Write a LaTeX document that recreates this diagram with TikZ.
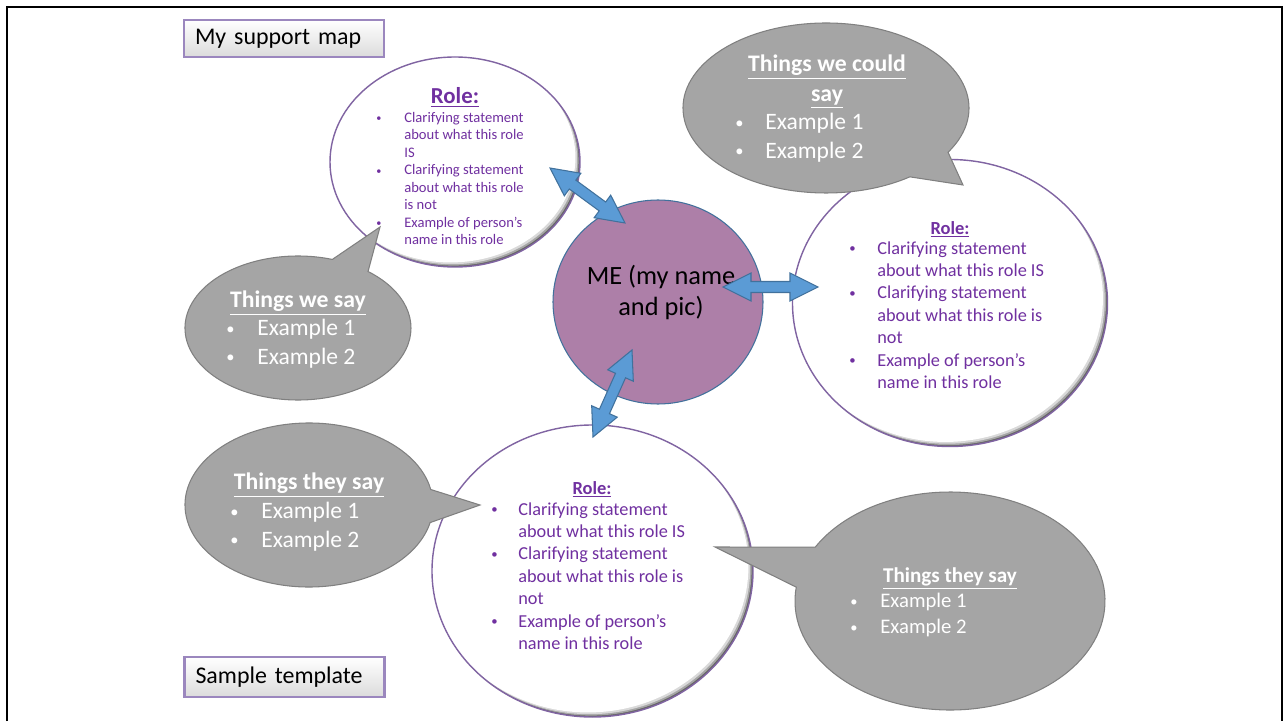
\documentclass[tikz,border=0pt]{standalone}
\usepackage{fontspec}
\usepackage{graphicx}
\setmainfont{Carlito}
\usetikzlibrary{calc,positioning,shapes.geometric}
\definecolor{rolepurple}{RGB}{112,48,160}
\definecolor{ringpurple}{RGB}{128,100,162}
\definecolor{bubblegray}{RGB}{165,165,165}
\definecolor{bubbleedge}{RGB}{128,128,128}
\definecolor{mefill}{RGB}{173,127,168}
\definecolor{meedge}{RGB}{65,113,156}
\definecolor{arrowfill}{RGB}{91,155,213}
\definecolor{arrowedge}{RGB}{65,113,156}
\definecolor{tagedge}{RGB}{155,135,190}

% small list bullet
\newcommand{\bul}{\raisebox{0.12ex}{\scalebox{0.7}{\textbullet}}}

% double headed block arrow between two named points
\newcommand{\dblarrow}[2]{%
  \draw[blockarrow] (#1) -- ($(#1)!0.56cm!(#2)!0.28cm!90:(#2)$) -- ($(#1)!0.56cm!(#2)!0.11cm!90:(#2)$)
    -- ($(#2)!0.56cm!(#1)!0.11cm!-90:(#1)$) -- ($(#2)!0.56cm!(#1)!0.28cm!-90:(#1)$) -- (#2)
    -- ($(#2)!0.56cm!(#1)!0.28cm!90:(#1)$) -- ($(#2)!0.56cm!(#1)!0.11cm!90:(#1)$)
    -- ($(#1)!0.56cm!(#2)!0.11cm!-90:(#2)$) -- ($(#1)!0.56cm!(#2)!0.28cm!-90:(#2)$) -- cycle;}

\tikzset{
  rolering/.style 2 args={ellipse, minimum width=#1, minimum height=#2, inner sep=0pt,
    fill=white, draw=ringpurple, line width=0.8pt,
    path picture={
      \fill[black!60] (path picture bounding box.center) ellipse [x radius=#1/2, y radius=#2/2];
      \fill[black!35] ([shift={(-0.8pt,0.8pt)}]path picture bounding box.center) ellipse [x radius=#1/2, y radius=#2/2];
      \fill[black!15] ([shift={(-1.6pt,1.6pt)}]path picture bounding box.center) ellipse [x radius=#1/2, y radius=#2/2];
      \fill[white] ([shift={(-2.6pt,2.6pt)}]path picture bounding box.center) ellipse [x radius=#1/2, y radius=#2/2];
    }},
  bubble/.style={fill=bubblegray, draw=bubbleedge, line width=0.6pt},
  bubbletitle/.style={text=white, font=\bfseries, anchor=base, inner sep=0pt},
  bubblelist/.style={text=white, anchor=base west, inner sep=0pt},
  roletitle/.style={text=rolepurple, font=\bfseries, anchor=base, inner sep=0pt},
  rolelist/.style={text=rolepurple, anchor=base west, inner sep=0pt},
  tagbox/.style={draw=tagedge, line width=1.2pt, top color=white, bottom color=black!14,
    text=black, font=\fontsize{13.6}{16}\selectfont, align=left, inner xsep=0.22cm, text width=3.56cm},
  blockarrow/.style={fill=arrowfill, draw=arrowedge, line width=0.6pt, line join=miter}
}

\begin{document}
\begin{tikzpicture}

\useasboundingbox (0,0) rectangle (25.68,14.42);
\fill[white] (0,0) rectangle (25.68,14.42);

% slide frame
\draw[line width=1.5pt] (0.14,0) |- (25.64,14.28) -- (25.64,0);

% Tag boxes
\node[tagbox, minimum height=0.74cm] (maptag) at (5.68,13.65) {My support map};
\node[tagbox, minimum height=0.80cm] (sampletag) at (5.69,0.88) {Sample template};

% Role rings and ME
\node[rolering={5.0cm}{4.2cm}] (toprole) at (9.1,11.18) {};
\node[rolering={6.3cm}{5.74cm}] (rightrole) at (19.0,8.36) {};
\node[rolering={6.42cm}{5.84cm}] (bottomrole) at (11.85,3.0) {};
\node[ellipse, minimum width=4.2cm, minimum height=4.08cm, inner sep=0pt, fill=mefill, draw=meedge, line width=0.6pt] (me) at (13.16,8.38) {};
\node[font=\fontsize{15}{17.6}\selectfont, align=center] (metext) at (13.22,8.57) {ME (my name\\and pic)};

% Speech bubbles
\coordinate (couldbub) at (16.52,12.26);
\coordinate (wesaybub) at (5.96,7.86);
\coordinate (theyleftbub) at (6.18,4.32);
\coordinate (theyrightbub) at (19.0,2.4);
\draw[bubble] (couldbub) ++(-31.4:2.86 and 1.70) arc[start angle=-31.4, end angle=305.9, x radius=2.86, y radius=1.70] -- (19.26,10.72) -- cycle;
\draw[bubble] (wesaybub) ++(72.3:2.26 and 1.44) arc[start angle=72.3, end angle=411.7, x radius=2.26, y radius=1.44] -- (7.6,9.88) -- cycle;
\draw[bubble] (theyleftbub) ++(10.9:2.48 and 1.64) arc[start angle=10.9, end angle=347.6, x radius=2.48, y radius=1.64] -- (9.6,4.32) -- cycle;
\draw[bubble] (theyrightbub) ++(172.7:3.1 and 2.18) arc[start angle=172.7, end angle=510.4, x radius=3.1, y radius=2.18] -- (14.3,3.48) -- cycle;

% Block arrows to ME
\coordinate (toparrowa) at (11.0,11.06);
\coordinate (toparrowb) at (12.5,9.96);
\coordinate (rightarrowa) at (14.46,8.68);
\coordinate (rightarrowb) at (16.36,8.68);
\coordinate (bottomarrowa) at (12.64,7.42);
\coordinate (bottomarrowb) at (11.86,5.68);
\dblarrow{toparrowa}{toparrowb}
\dblarrow{rightarrowa}{rightarrowb}
\dblarrow{bottomarrowa}{bottomarrowb}

% Role texts
\node[roletitle, font=\fontsize{13}{15}\selectfont\bfseries] (toptitle) at (9.1,12.34) {\underline{Role:}};
\node[rolelist, font=\fontsize{8.3}{9.95}\selectfont] (topitems) at (7.52,11.97) {%
  \begin{tabular}[t]{@{}p{0.56cm}@{}l@{}}
  \bul & Clarifying statement\\
   & about what this role\\
   & IS\\
  \bul & Clarifying statement\\
   & about what this role\\
   & is not\\
  \bul & Example of person’s\\
   & name in this role
  \end{tabular}};

\node[roletitle, font=\fontsize{10.5}{12.75}\selectfont\bfseries] (righttitle) at (19.0,9.74) {\underline{Role:}};
\node[rolelist, font=\fontsize{10.4}{12.75}\selectfont] (rightitems) at (16.98,9.34) {%
  \begin{tabular}[t]{@{}p{0.56cm}@{}l@{}}
  \bul & Clarifying statement\\
   & about what this role IS\\
  \bul & Clarifying statement\\
   & about what this role is\\
   & not\\
  \bul & Example of person’s\\
   & name in this role
  \end{tabular}};

\node[roletitle, font=\fontsize{10.5}{12.75}\selectfont\bfseries] (bottomtitle) at (11.84,4.54) {\underline{Role:}};
\node[rolelist, font=\fontsize{10.4}{12.75}\selectfont] (bottomitems) at (9.82,4.12) {%
  \begin{tabular}[t]{@{}p{0.54cm}@{}l@{}}
  \bul & Clarifying statement\\
   & about what this role IS\\
  \bul & Clarifying statement\\
   & about what this role is\\
   & not\\
  \bul & Example of person’s\\
   & name in this role
  \end{tabular}};

% Bubble texts
\node[bubbletitle, font=\fontsize{13.5}{17}\selectfont\bfseries] (couldtitle) at (16.54,12.99)
  {\begin{tabular}[t]{@{}c@{}}\underline{Things we could}\\\underline{say}\end{tabular}};
\node[bubblelist, font=\fontsize{13.4}{16.4}\selectfont] (coulditems) at (14.7,11.83)
  {\begin{tabular}[t]{@{}p{0.6cm}@{}l@{}}\bul & Example 1\\\bul & Example 2\end{tabular}};

\node[bubbletitle, font=\fontsize{13.5}{16.4}\selectfont\bfseries] (wesaytitle) at (5.96,8.27) {\underline{Things we say}};
\node[bubblelist, font=\fontsize{13.4}{16.4}\selectfont] (wesayitems) at (4.52,7.71)
  {\begin{tabular}[t]{@{}p{0.62cm}@{}l@{}}\bul & Example 1\\\bul & Example 2\end{tabular}};

\node[bubbletitle, font=\fontsize{13.5}{16.4}\selectfont\bfseries] (theylefttitle) at (6.18,4.63) {\underline{Things they say}};
\node[bubblelist, font=\fontsize{13.4}{16.4}\selectfont] (theyleftitems) at (4.6,4.05)
  {\begin{tabular}[t]{@{}p{0.62cm}@{}l@{}}\bul & Example 1\\\bul & Example 2\end{tabular}};

\node[bubbletitle, font=\fontsize{12}{14.7}\selectfont\bfseries] (theyrighttitle) at (19.0,2.77) {\underline{Things they say}};
\node[bubblelist, font=\fontsize{11.8}{14.7}\selectfont] (theyrightitems) at (17.0,2.27)
  {\begin{tabular}[t]{@{}p{0.6cm}@{}l@{}}\bul & Example 1\\\bul & Example 2\end{tabular}};

\end{tikzpicture}
\end{document}
